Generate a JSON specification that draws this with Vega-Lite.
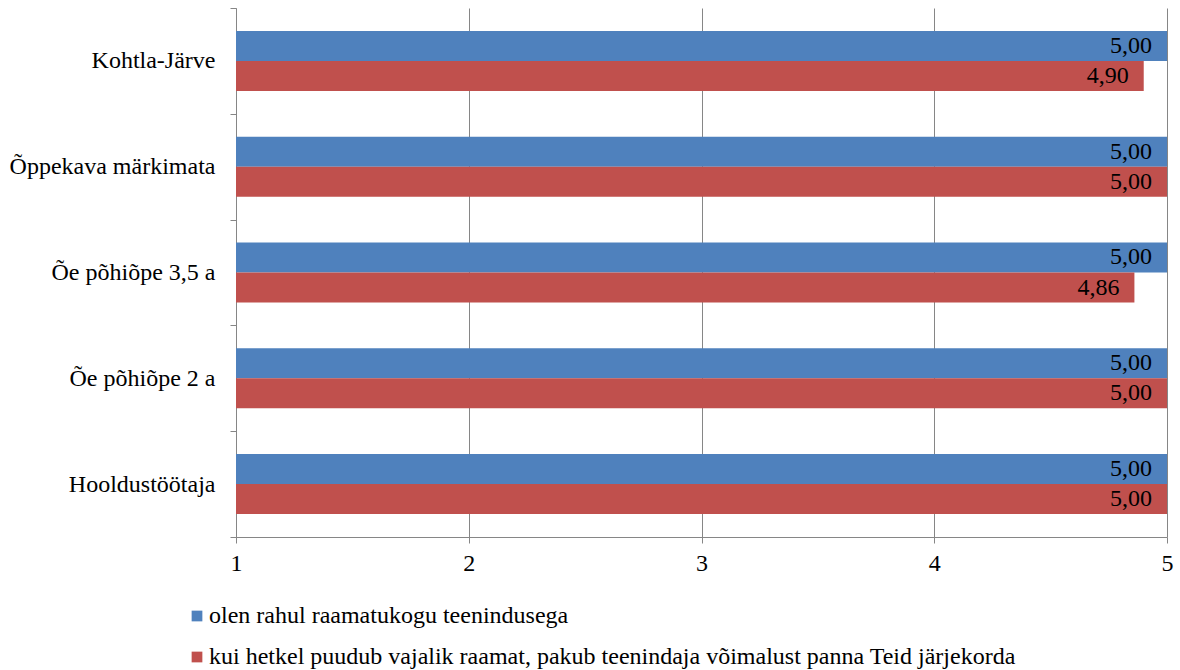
{
  "$schema": "https://vega.github.io/schema/vega-lite/v6.json",
  "width": 931,
  "height": 529,
  "autosize": {"type": "none"},
  "padding": {"left": 236, "top": 8, "right": 13, "bottom": 133},
  "background": "white",
  "config": {
    "font": "Liberation Serif",
    "view": {"stroke": null},
    "locale": {"number": {"decimal": ",", "thousands": " ", "grouping": [3], "currency": ["", " €"]}}
  },
  "data": {
    "values": [
      {"group": "Kohtla-Järve", "series": "olen rahul raamatukogu teenindusega", "value": 5.00},
      {"group": "Kohtla-Järve", "series": "kui hetkel puudub vajalik raamat, pakub teenindaja võimalust panna Teid järjekorda", "value": 4.90},
      {"group": "Õppekava märkimata", "series": "olen rahul raamatukogu teenindusega", "value": 5.00},
      {"group": "Õppekava märkimata", "series": "kui hetkel puudub vajalik raamat, pakub teenindaja võimalust panna Teid järjekorda", "value": 5.00},
      {"group": "Õe põhiõpe 3,5 a", "series": "olen rahul raamatukogu teenindusega", "value": 5.00},
      {"group": "Õe põhiõpe 3,5 a", "series": "kui hetkel puudub vajalik raamat, pakub teenindaja võimalust panna Teid järjekorda", "value": 4.86},
      {"group": "Õe põhiõpe 2 a", "series": "olen rahul raamatukogu teenindusega", "value": 5.00},
      {"group": "Õe põhiõpe 2 a", "series": "kui hetkel puudub vajalik raamat, pakub teenindaja võimalust panna Teid järjekorda", "value": 5.00},
      {"group": "Hooldustöötaja", "series": "olen rahul raamatukogu teenindusega", "value": 5.00},
      {"group": "Hooldustöötaja", "series": "kui hetkel puudub vajalik raamat, pakub teenindaja võimalust panna Teid järjekorda", "value": 5.00}
    ]
  },
  "encoding": {
    "y": {
      "field": "group",
      "type": "nominal",
      "sort": ["Kohtla-Järve", "Õppekava märkimata", "Õe põhiõpe 3,5 a", "Õe põhiõpe 2 a", "Hooldustöötaja"],
      "scale": {"paddingInner": 0, "paddingOuter": 0},
      "axis": {
        "title": null,
        "tickBand": "extent",
        "domainColor": "#868686",
        "tickColor": "#868686",
        "tickSize": 6,
        "labelFont": "Liberation Serif",
        "labelFontSize": 24,
        "labelColor": "black",
        "labelPadding": 15,
        "labelLimit": 400,
        "grid": false
      }
    },
    "yOffset": {
      "field": "series",
      "type": "nominal",
      "sort": ["olen rahul raamatukogu teenindusega", "kui hetkel puudub vajalik raamat, pakub teenindaja võimalust panna Teid järjekorda"],
      "scale": {"paddingInner": 0, "paddingOuter": 0.763}
    }
  },
  "layer": [
    {
      "mark": {"type": "bar"},
      "encoding": {
        "x": {
          "field": "value",
          "type": "quantitative",
          "scale": {"domain": [1, 5], "zero": false, "nice": false},
          "axis": {
            "title": null,
            "values": [1, 2, 3, 4, 5],
            "format": "d",
            "grid": true,
            "gridColor": "#868686",
            "domainColor": "#868686",
            "tickColor": "#868686",
            "tickSize": 6,
            "labelFont": "Liberation Serif",
            "labelFontSize": 24,
            "labelColor": "black",
            "labelPadding": 8,
            "labelFlush": false
          }
        },
        "x2": {"datum": 1},
        "color": {
          "field": "series",
          "type": "nominal",
          "sort": ["olen rahul raamatukogu teenindusega", "kui hetkel puudub vajalik raamat, pakub teenindaja võimalust panna Teid järjekorda"],
          "scale": {"range": ["#4F81BD", "#C0504D"]},
          "legend": {
            "title": null,
            "orient": "none",
            "direction": "vertical",
            "legendX": -51,
            "legendY": 596,
            "symbolType": "square",
            "symbolSize": 115,
            "symbolStrokeWidth": 0,
            "symbolOpacity": 1,
            "labelFont": "Liberation Serif",
            "labelFontSize": 24,
            "labelColor": "black",
            "labelLimit": 1000,
            "labelOffset": 0,
            "rowPadding": 17
          }
        }
      }
    },
    {
      "mark": {"type": "text", "align": "right", "baseline": "middle", "dx": -15, "fontSize": 24, "font": "Liberation Serif", "color": "black"},
      "encoding": {
        "x": {"field": "value", "type": "quantitative"},
        "text": {"field": "value", "type": "quantitative", "format": ".2f"}
      }
    }
  ]
}
